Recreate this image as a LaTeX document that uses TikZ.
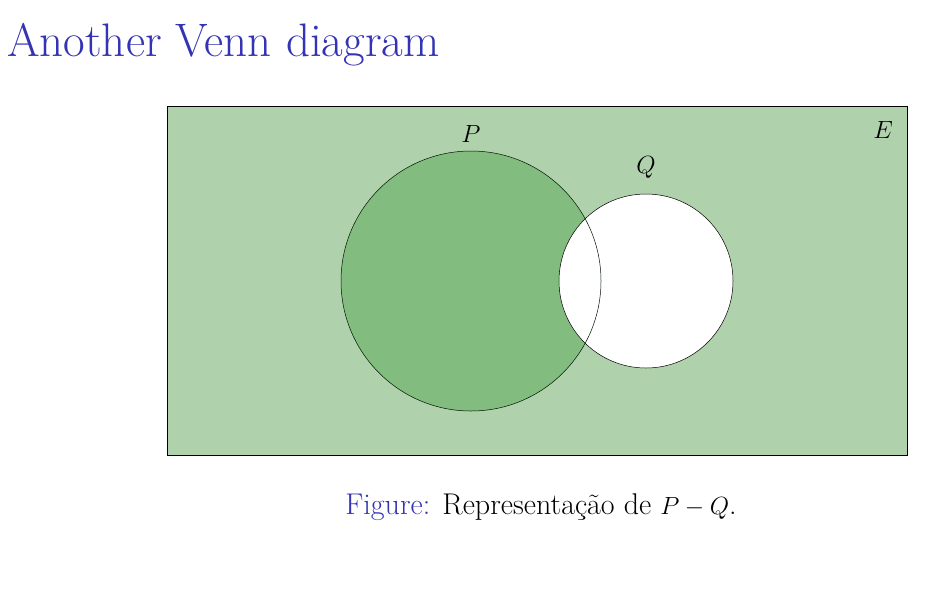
\documentclass[tikz,border=0pt]{standalone}
\begin{document}
\begin{tikzpicture}[x=1pt,y=-1pt,
  lab/.style={inner sep=0pt,font=\fontsize{27}{31}\selectfont}]
\definecolor{beamblue}{RGB}{51,51,179}
\definecolor{lightg}{RGB}{175,209,172}
\definecolor{darkg}{RGB}{130,188,126}
\useasboundingbox (0,0) rectangle (940,590);
\node[anchor=base west,inner sep=0pt,text=beamblue,font=\fontsize{47}{54}\selectfont] (title) at (7,56) {Another Venn diagram};
\node[draw=black,fill=lightg,minimum width=740,minimum height=349,inner sep=0pt,anchor=north west,line width=0.6pt] (E) at (167,106) {};
\fill[darkg] (471,281) circle (130);
\fill[white] (646,281) circle (87);
\draw[line width=0.5pt,black!80!green!40!black] (471,281) circle (130);
\draw[line width=0.5pt] (646,281) circle (87);
\node[lab] (P) at (471,134) {$P$};
\node[lab] (Q) at (646,167) {$Q$};
\node[lab] (El) at (883,130) {$E$};
\node[anchor=base,inner sep=0pt,font=\fontsize{30}{35}\selectfont] (cap) at (541,514) {\textcolor{beamblue}{Figure:} Representação de $P-Q$.};
\end{tikzpicture}
\end{document}
